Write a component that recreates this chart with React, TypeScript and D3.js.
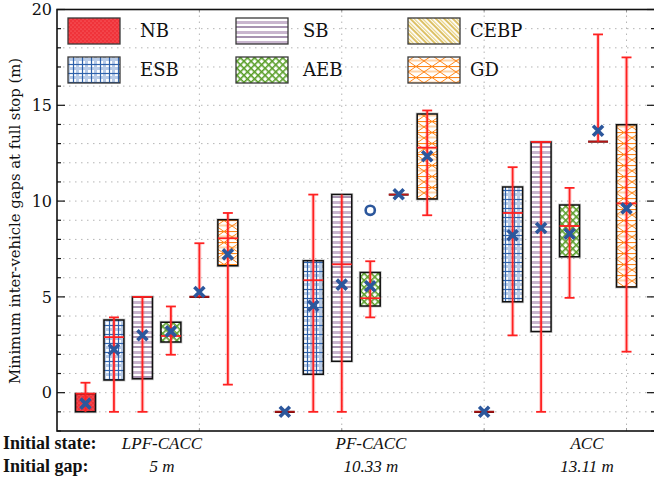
import React from "react";
import * as d3 from "d3";

// categories
const groups = ["LPF-CACC", "PF-CACC", "ACC"];
const gapLabels = ["5 m", "10.33 m", "13.11 m"];
const methods = ["NB", "ESB", "SB", "AEB", "CEBP", "GD"];

// box stats, one value per group (LPF-CACC, PF-CACC, ACC)
const lowWhisker = {
  NB: [-1.0, -1.0, -1.0],
  ESB: [-1.0, -1.0, 2.99],
  SB: [-1.0, -1.0, -1.0],
  AEB: [1.98, 3.93, 4.95],
  CEBP: [5.0, 10.34, 13.1],
  GD: [0.42, 9.26, 2.14],
};
const q1 = {
  NB: [-1.0, -1.0, -1.0],
  ESB: [0.66, 0.96, 4.74],
  SB: [0.73, 1.64, 3.19],
  AEB: [2.65, 4.53, 7.1],
  CEBP: [5.0, 10.34, 13.1],
  GD: [6.62, 10.11, 5.52],
};
const median = {
  NB: [-0.05, -1.0, -1.0],
  ESB: [2.9, 5.87, 9.38],
  SB: [5.0, 6.7, 13.09],
  AEB: [2.96, 4.93, 8.7],
  CEBP: [5.0, 10.34, 13.1],
  GD: [8.06, 12.79, 9.88],
};
const q3 = {
  NB: [-0.05, -1.0, -1.0],
  ESB: [3.8, 6.88, 10.74],
  SB: [5.0, 10.34, 13.09],
  AEB: [3.67, 6.27, 9.8],
  CEBP: [5.0, 10.34, 13.1],
  GD: [9.02, 14.55, 13.98],
};
const highWhisker = {
  NB: [0.52, -1.0, -1.0],
  ESB: [3.93, 10.34, 11.77],
  SB: [5.0, 10.34, 13.09],
  AEB: [4.5, 6.86, 10.69],
  CEBP: [7.8, 10.34, 18.7],
  GD: [9.38, 14.73, 17.5],
};
const means = {
  NB: [-0.57, -1.0, -1.0],
  ESB: [2.25, 4.54, 8.22],
  SB: [3.0, 5.64, 8.6],
  AEB: [3.2, 5.55, 8.3],
  CEBP: [5.26, 10.36, 13.67],
  GD: [7.22, 12.34, 9.62],
};
// outliers: [method, group index, value]
const outliers: [string, number, number][] = [["AEB", 1, 9.52]];

const yTicks = [0, 5, 10, 15, 20];

const W = 654;
const H = 481;
const left = 57;
const right = 655;
const top = 9.5;
const bottom = 431;

const RED = "#ff2121";
const BLUE = "#2c579c";
const serif = "DejaVu Serif";
const times = "Liberation Serif";

const Patterns = () => (
  <defs>
    <pattern id="p-NB" width={4} height={4} patternUnits="userSpaceOnUse">
      <rect width={4} height={4} fill="#f0333a" />
      <circle cx={1} cy={1} r={0.5} fill="#ff8a8a" />
      <circle cx={3} cy={3} r={0.5} fill="#ff8a8a" />
    </pattern>
    <pattern id="p-ESB" width={9} height={9} patternUnits="userSpaceOnUse">
      <rect width={9} height={9} fill="#fff" />
      <rect x={4} width={3} height={9} fill="#b8cbe7" />
      <rect y={4} width={9} height={3} fill="#b8cbe7" />
      <line x1={1.5} x2={1.5} y1={0} y2={9} stroke="#2f62ab" strokeWidth={1.2} />
      <line y1={1.5} y2={1.5} x1={0} x2={9} stroke="#2f62ab" strokeWidth={1.2} />
    </pattern>
    <pattern id="p-SB" width={10} height={10} patternUnits="userSpaceOnUse">
      <rect width={10} height={10} fill="#fff" />
      <rect y={1} width={10} height={3} fill="#c9b6cf" />
      <line y1={7} y2={7} x1={0} x2={10} stroke="#6c4a7c" strokeWidth={1.2} />
    </pattern>
    <pattern
      id="p-CEBP"
      width={6}
      height={6}
      patternUnits="userSpaceOnUse"
      patternTransform="rotate(-45)"
    >
      <rect width={6} height={6} fill="#fff" />
      <line x1={1} x2={1} y1={0} y2={6} stroke="#d2ad34" strokeWidth={1.5} />
      <line x1={3.6} x2={3.6} y1={0} y2={6} stroke="#e6d07a" strokeWidth={1.2} />
    </pattern>
    <pattern
      id="p-AEB"
      width={5}
      height={5}
      patternUnits="userSpaceOnUse"
      patternTransform="rotate(45)"
    >
      <rect width={5} height={5} fill="#fff" />
      <line x1={0.8} x2={0.8} y1={0} y2={5} stroke="#5b9f2b" strokeWidth={1.6} />
      <line y1={0.8} y2={0.8} x1={0} x2={5} stroke="#5b9f2b" strokeWidth={1.6} />
    </pattern>
    <pattern id="p-GD" width={16} height={11} patternUnits="userSpaceOnUse">
      <rect width={16} height={11} fill="#fff" />
      <rect y={4.5} width={16} height={2} fill="#ffd4a8" />
      <line y1={0.5} y2={0.5} x1={0} x2={16} stroke="#ff8619" strokeWidth={1.2} />
      <path d="M0,0.5 L16,11.5 M16,0.5 L0,11.5" stroke="#ff8619" strokeWidth={1} />
    </pattern>
  </defs>
);

export default function App() {
  const x = d3.scaleLinear().domain([0, 4.2]).range([left, right]);
  const y = d3.scaleLinear().domain([-2, 20]).range([bottom, top]);

  const boxW = x(0.14) - x(0);
  const capW = x(0.07) - x(0);
  const pos = (g: number, m: number) => x(0.2 + g * 1.4 + m * 0.2);

  const gridY = d3.range(-1, 20);
  const minorY = d3.range(-2, 21);
  const gridX = [1, 2, 3, 4];

  const cross = (cx: number, cy: number, key: string) => {
    const s = 5;
    return (
      <path
        key={key}
        d={`M${cx - s},${cy - s}L${cx + s},${cy + s}M${cx + s},${cy - s}L${cx - s},${cy + s}`}
        stroke={BLUE}
        strokeWidth={3.6}
        fill="none"
      />
    );
  };

  const boxes: React.ReactNode[] = [];
  groups.forEach((gName, g) => {
    methods.forEach((m, mi) => {
      const cx = pos(g, mi);
      const x0 = cx - boxW / 2;
      const x1 = cx + boxW / 2;
      const yq1 = y(q1[m][g]);
      const yq3 = y(q3[m][g]);
      const ylo = y(lowWhisker[m][g]);
      const yhi = y(highWhisker[m][g]);
      const ymed = y(median[m][g]);
      const k = `${gName}-${m}`;
      const flat = Math.abs(yq1 - yq3) < 0.5;
      boxes.push(
        <g key={k}>
          {!flat && (
            <path
              d={`M${x0},${yq3}H${x1}V${yq1}H${x0}Z`}
              fill="none"
              stroke="#999"
              strokeWidth={3}
              opacity={0.5}
            />
          )}
          <path
            d={`M${x0},${yq3}H${x1}V${yq1}H${x0}Z`}
            fill={`url(#p-${m})`}
            stroke={flat ? "#6a0c0c" : "#111"}
            strokeWidth={flat ? 2.2 : 1.5}
          />
          <line x1={cx} x2={cx} y1={ylo} y2={yhi} stroke={RED} strokeWidth={4} opacity={0.2} />
          <line x1={cx} x2={cx} y1={ylo} y2={yhi} stroke={RED} strokeWidth={1.8} />
          {ylo !== yq1 && (
            <line x1={cx - capW / 2} x2={cx + capW / 2} y1={ylo} y2={ylo} stroke={RED} strokeWidth={1.8} />
          )}
          {yhi !== yq3 && (
            <line x1={cx - capW / 2} x2={cx + capW / 2} y1={yhi} y2={yhi} stroke={RED} strokeWidth={1.8} />
          )}
          {!flat && (
            <line x1={x0} x2={x1} y1={ymed} y2={ymed} stroke={RED} strokeWidth={1.8} />
          )}
          {flat && (
            <line x1={x0} x2={x1} y1={ymed} y2={ymed} stroke={RED} strokeWidth={1} opacity={0.6} />
          )}
          {cross(cx, y(means[m][g]), k + "-mean")}
        </g>
      );
    });
  });

  const legendCols = [68, 236, 408];
  const legendTextX = [140, 303, 470];
  const legendRows = [18, 57];

  return (
    <svg
      width={W}
      height={H}
      style={{ position: "absolute", left: 0, top: 0, background: "#fff" }}
    >
      <Patterns />
      <rect width={W} height={H} fill="#fff" />

      {/* grid */}
      {gridY.map((v) => (
        <line
          key={"gy" + v}
          x1={left}
          x2={right}
          y1={y(v)}
          y2={y(v)}
          stroke="#b5b5b5"
          strokeWidth={1}
          strokeDasharray="1.5,4.5"
        />
      ))}
      {gridX.map((v) => (
        <line
          key={"gx" + v}
          x1={x(v)}
          x2={x(v)}
          y1={top}
          y2={bottom}
          stroke="#b5b5b5"
          strokeWidth={1}
          strokeDasharray="1.5,4.5"
        />
      ))}

      {/* legend */}
      {methods.map((m, i) => {
        const col = Math.floor(i / 2);
        const row = i % 2;
        return (
          <g key={"leg" + m}>
            <rect
              x={legendCols[col]}
              y={legendRows[row]}
              width={52}
              height={26}
              fill={`url(#p-${m})`}
              stroke="#3a3a3a"
              strokeWidth={1.3}
            />
            <text
              x={legendTextX[col]}
              y={legendRows[row] + 13}
              dy="0.36em"
              fontFamily={serif}
              fontSize={18}
              fill="#111"
            >
              {m}
            </text>
          </g>
        );
      })}

      {boxes}

      {outliers.map(([m, g, v]) => (
        <circle
          key={"out" + m + g}
          cx={pos(g, methods.indexOf(m))}
          cy={y(v)}
          r={4.6}
          fill="none"
          stroke={BLUE}
          strokeWidth={2.6}
        />
      ))}

      {/* axis ticks */}
      {minorY.map((v) => {
        const len = v % 5 === 0 ? 8 : 4;
        return (
          <g key={"ty" + v}>
            <line x1={left} x2={left + len} y1={y(v)} y2={y(v)} stroke="#111" strokeWidth={1.2} />
            <line x1={right - len} x2={right} y1={y(v)} y2={y(v)} stroke="#111" strokeWidth={1.2} />
          </g>
        );
      })}
      {gridX.map((v) => (
        <g key={"tx" + v}>
          <line x1={x(v)} x2={x(v)} y1={bottom} y2={bottom - 3} stroke="#999" strokeWidth={1} />
          <line x1={x(v)} x2={x(v)} y1={top} y2={top + 3} stroke="#999" strokeWidth={1} />
        </g>
      ))}
      {yTicks.map((v) => (
        <text
          key={"yl" + v}
          x={52}
          y={y(v)}
          dy="0.36em"
          textAnchor="end"
          fontFamily={serif}
          fontSize={16}
          fill="#111"
        >
          {v}
        </text>
      ))}

      <rect
        x={left}
        y={top}
        width={right - left}
        height={bottom - top}
        fill="none"
        stroke="#111"
        strokeWidth={1.6}
      />

      <text
        transform={`translate(20,221) rotate(-90)`}
        textAnchor="middle"
        fontFamily={serif}
        fontSize={14}
        textLength={326}
        lengthAdjust="spacingAndGlyphs"
        fill="#111"
      >
        Minimum inter-vehicle gaps at full stop (m)
      </text>

      {/* group labels */}
      <text x={3} y={449} fontFamily={times} fontWeight="bold" fontSize={18} fill="#111">
        Initial state:
      </text>
      <text x={3} y={472} fontFamily={times} fontWeight="bold" fontSize={18} fill="#111">
        Initial gap:
      </text>
      {groups.map((gName, g) => {
        const cx = [162, 371, 587][g];
        return (
          <g key={"gl" + gName}>
            <text x={cx} y={449} textAnchor="middle" fontFamily={times} fontStyle="italic" fontSize={17} fill="#111">
              {gName}
            </text>
            <text x={cx} y={472} textAnchor="middle" fontFamily={times} fontStyle="italic" fontSize={17} fill="#111">
              {gapLabels[g]}
            </text>
          </g>
        );
      })}
    </svg>
  );
}
